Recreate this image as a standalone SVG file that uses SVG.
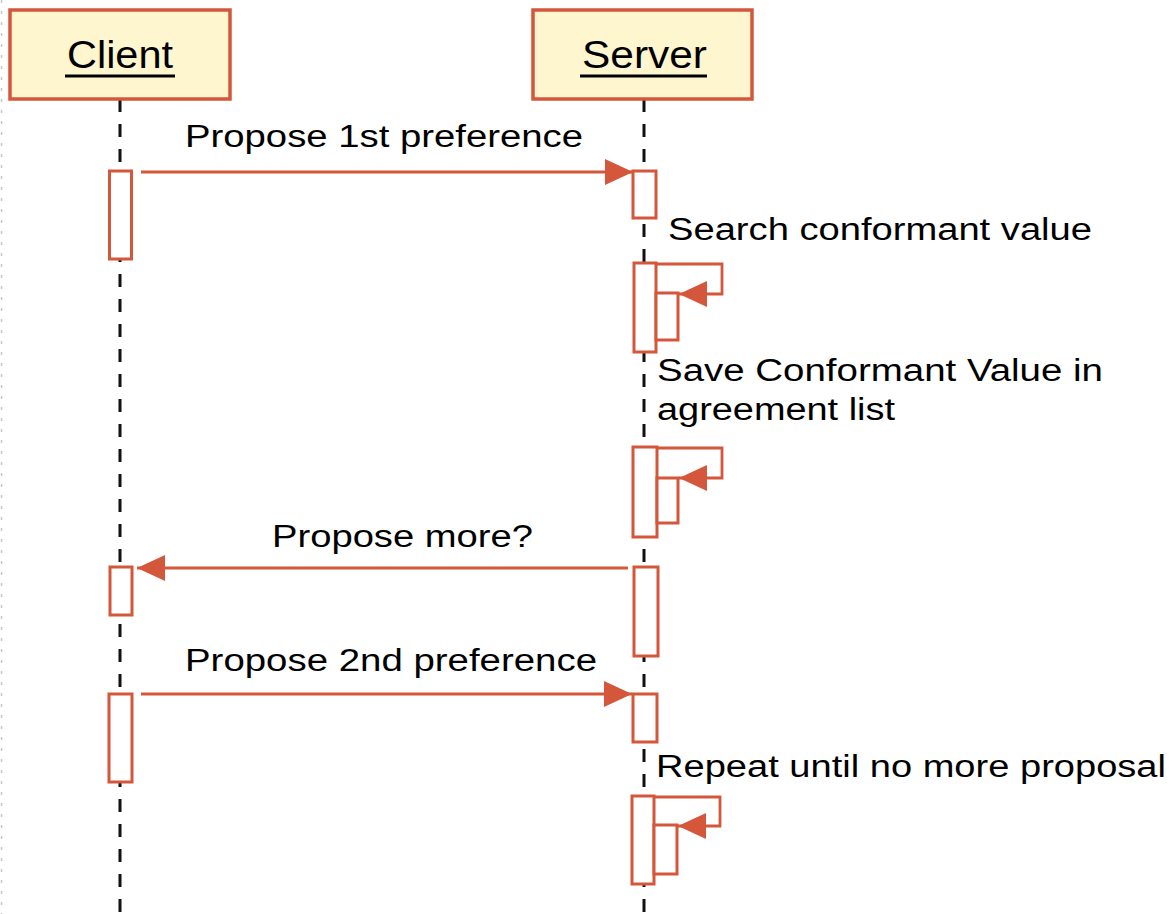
<svg xmlns="http://www.w3.org/2000/svg" width="1173" height="914" viewBox="0 0 1173 914">
<style>
.head{fill:#FDF6CF;stroke:#D4573B;stroke-width:3.5}
.lbl{font-family:"Liberation Sans",Arial,sans-serif;fill:#000}
.title{font-size:39px}
.msg{font-size:31px}
.life{stroke:#111;stroke-width:3;stroke-dasharray:13 12;fill:none}
.act{fill:#fff;stroke:#D4573B;stroke-width:3}
.arr{stroke:#D4573B;stroke-width:2.8;fill:none}
</style>
<defs>
<marker id="ah" markerUnits="userSpaceOnUse" markerWidth="30" markerHeight="28" refX="28" refY="13" orient="auto">
<path d="M0,0 L28,13 L0,26 z" fill="#D4573B"/>
</marker>
</defs>
<rect width="1173" height="914" fill="#fff"/>
<line x1="1.5" y1="0" x2="1.5" y2="914" stroke="#c8c8c8" stroke-width="1.5" stroke-dasharray="3 8"/>
<g id="lifelines">
<line class="life" x1="120" y1="99" x2="120" y2="914"/>
<line class="life" x1="644" y1="99" x2="644" y2="914"/>
</g>
<g id="client">
<rect class="head" x="10" y="10" width="220" height="89"/>
<text class="lbl title" x="67" y="68" textLength="106" lengthAdjust="spacingAndGlyphs">Client</text>
<rect x="65" y="74.5" width="110" height="3" fill="#000"/>
</g>
<g id="server">
<rect class="head" x="533" y="10" width="219" height="89"/>
<text class="lbl title" x="582" y="68" textLength="125" lengthAdjust="spacingAndGlyphs">Server</text>
<rect x="580" y="74.5" width="127" height="3" fill="#000"/>
</g>
<g id="client-activations">
<rect class="act" x="109.5" y="171" width="22" height="88"/>
<rect class="act" x="110" y="567" width="22" height="48"/>
<rect class="act" x="109" y="694" width="23" height="88"/>
</g>
<g id="server-activations">
<rect class="act" x="633" y="171" width="23" height="47"/>
<rect class="act" x="634" y="263" width="22" height="89"/>
<rect class="act" x="656" y="293" width="22" height="47"/>
<rect class="act" x="633" y="447" width="24" height="90"/>
<rect class="act" x="657" y="478" width="21" height="45"/>
<rect class="act" x="634" y="567" width="24" height="89"/>
<rect class="act" x="633" y="694" width="24" height="48"/>
<rect class="act" x="632" y="796" width="22" height="88"/>
<rect class="act" x="654" y="825" width="23" height="49"/>
</g>
<g id="connectors">
<line class="arr" x1="141" y1="172" x2="633" y2="172" marker-end="url(#ah)"/>
<path class="arr" d="M656,264 H722 V294 H679" marker-end="url(#ah)"/>
<path class="arr" d="M657,448 H722 V478 H679" marker-end="url(#ah)"/>
<line class="arr" x1="628" y1="568" x2="137" y2="568" marker-end="url(#ah)"/>
<line class="arr" x1="141" y1="694" x2="632" y2="694" marker-end="url(#ah)"/>
<path class="arr" d="M654,797 H720 V826 H678" marker-end="url(#ah)"/>
</g>
<g id="labels">
<text class="lbl msg" x="185" y="147" textLength="398" lengthAdjust="spacingAndGlyphs">Propose 1st preference</text>
<text class="lbl msg" x="668" y="240" textLength="424" lengthAdjust="spacingAndGlyphs">Search conformant value</text>
<text class="lbl msg" x="657" y="381" textLength="446" lengthAdjust="spacingAndGlyphs">Save Conformant Value in</text>
<text class="lbl msg" x="657" y="420" textLength="238" lengthAdjust="spacingAndGlyphs">agreement list</text>
<text class="lbl msg" x="272" y="547" textLength="261" lengthAdjust="spacingAndGlyphs">Propose more?</text>
<text class="lbl msg" x="185" y="671" textLength="412" lengthAdjust="spacingAndGlyphs">Propose 2nd preference</text>
<text class="lbl msg" x="656" y="777" textLength="510" lengthAdjust="spacingAndGlyphs">Repeat until no more proposal</text>
</g>
</svg>
